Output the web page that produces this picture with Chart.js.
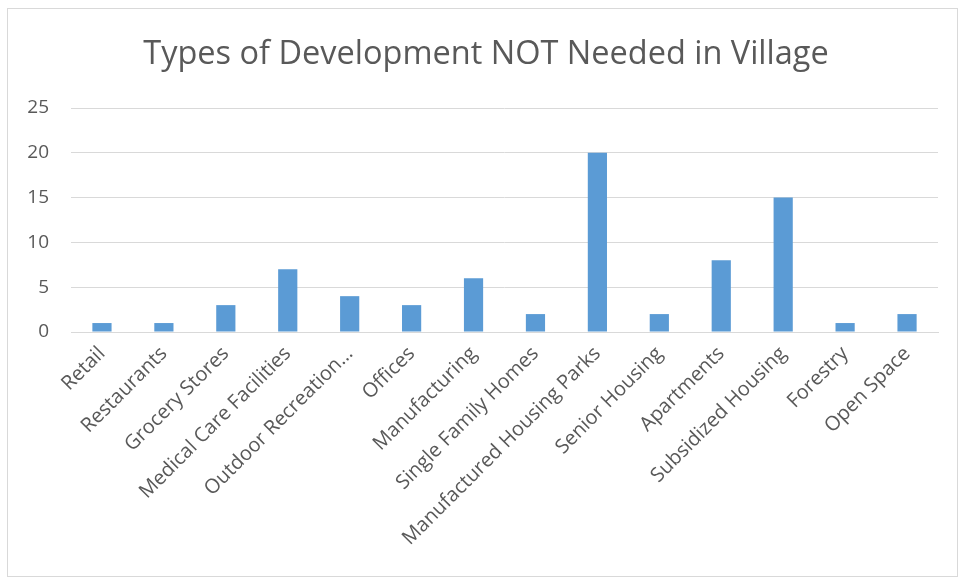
<!DOCTYPE html>
<html>
<head>
<meta charset="utf-8">
<script src="https://cdn.jsdelivr.net/npm/chart.js@4"></script>
<style>
    body { margin: 0; background: #fff; }
    #box { position: absolute; left: 7px; top: 8px; width: 949px; height: 567px; border: 1px solid #d9d9d9; }
</style>
</head>
<body>
<div id="box"><canvas id="Bar__canvas_1"></canvas></div>
<script>
var categories = ['Retail', 'Restaurants', 'Grocery Stores', 'Medical Care Facilities', 'Outdoor Recreation…',
    'Offices', 'Manufacturing', 'Single Family Homes', 'Manufactured Housing Parks', 'Senior Housing',
    'Apartments', 'Subsidized Housing', 'Forestry', 'Open Space'];
var counts = [1, 1, 3, 7, 4, 3, 6, 2, 20, 2, 8, 15, 1, 2];
var yTicks = [0, 5, 10, 15, 20, 25];

// title is centred on the whole box, not on the padded area
var titleShift = {
    id: 'titleShift',
    afterLayout: function (chart) {
        if (chart.titleBlock) {
            chart.titleBlock.left += 13;
            chart.titleBlock.right += 13;
        }
    }
};

function bar_status_1() {
    var ctr = document.getElementById('Bar__canvas_1');
    var bar = new Chart(ctr, {
        type: 'bar',
        data: {
            labels: categories,
            datasets: [{
                label: 'Count',
                data: counts,
                backgroundColor: '#5b9bd5',
                borderWidth: 0,
                barPercentage: 0.31,
                categoryPercentage: 1
            }]
        },
        options: {
            responsive: true,
            maintainAspectRatio: false,
            animation: false,
            layout: { padding: { left: 0, right: 19, top: 0, bottom: 0 } },
            plugins: {
                legend: { display: false },
                tooltip: { enabled: false },
                title: {
                    display: true,
                    text: 'Types of Development NOT Needed in Village',
                    color: '#595959',
                    font: { family: 'Open Sans', size: 32.5, weight: 'normal' },
                    padding: { top: 26, bottom: 34 }
                }
            },
            scales: {
                y: {
                    min: 0,
                    max: 25,
                    afterBuildTicks: function (axis) {
                        axis.ticks = yTicks.map(function (v) { return { value: v }; });
                    },
                    afterFit: function (axis) { axis.width = 63; },
                    border: { display: false },
                    grid: { color: '#d9d9d9', lineWidth: 1, drawTicks: false },
                    ticks: {
                        color: '#595959',
                        padding: 22,
                        font: { family: 'Open Sans', size: 19 }
                    }
                },
                x: {
                    afterFit: function (axis) { axis.height = 244; },
                    border: { display: true, color: '#d9d9d9', width: 1 },
                    grid: { display: false, drawTicks: false },
                    ticks: {
                        color: '#595959',
                        minRotation: 45,
                        maxRotation: 45,
                        autoSkip: false,
                        padding: 10,
                        font: { family: 'Open Sans', size: 20 }
                    }
                }
            }
        },
        plugins: [titleShift]
    });
}

bar_status_1();
</script>
</body>
</html>
